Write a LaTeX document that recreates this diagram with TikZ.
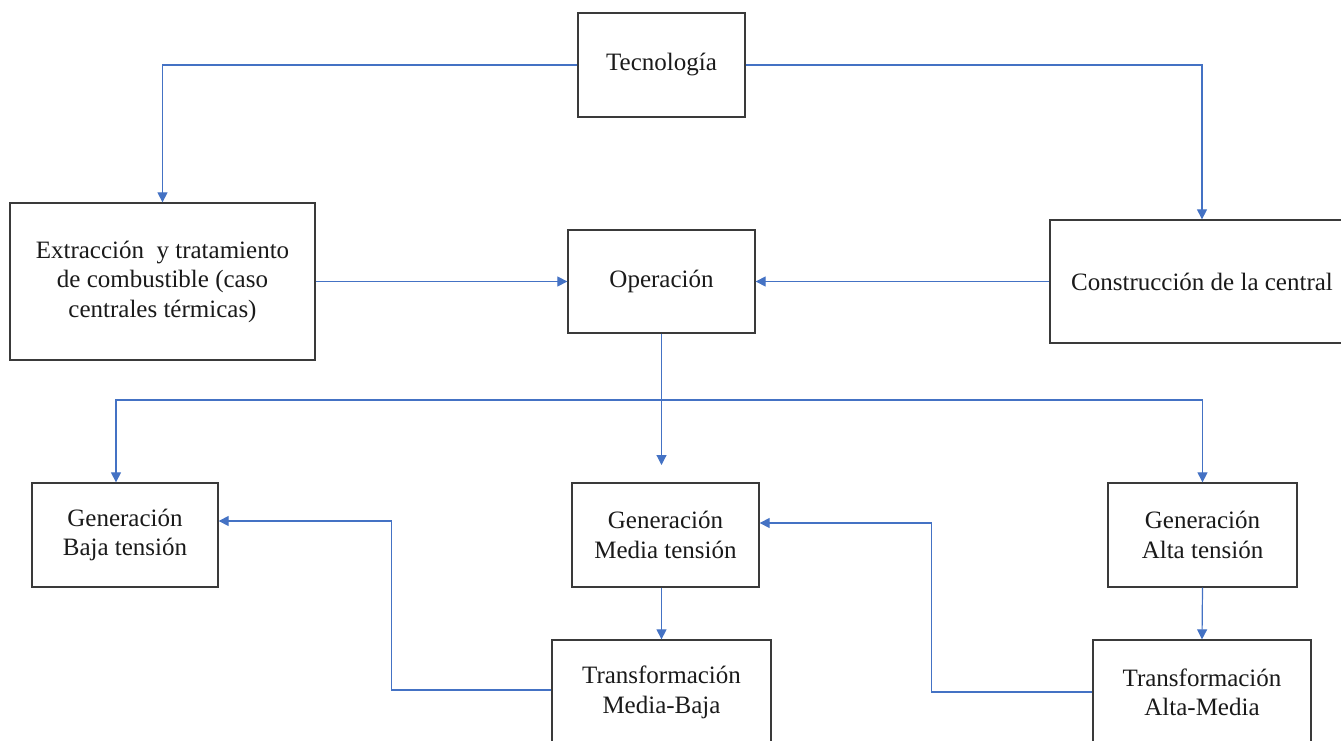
\documentclass[tikz,border=0pt]{standalone}
\usepackage{fontspec}
\setmainfont{Liberation Serif}
\usetikzlibrary{arrows.meta}
\definecolor{conn}{HTML}{4472C4}
\definecolor{boxline}{HTML}{3A3A3A}
\definecolor{txt}{HTML}{1A1A1A}
\begin{document}
\begin{tikzpicture}[x=1pt,y=-1pt,
  box/.style={draw=boxline,line width=1.3pt,fill=white,align=center,text=txt,inner sep=0pt,
    font=\fontsize{25}{29.5}\selectfont},
  arr/.style={draw=conn,line width=1.2pt,-{Triangle[length=10pt,width=10pt]}},
  ln/.style={draw=conn,line width=1.2pt}]
\useasboundingbox (0,0) rectangle (1341,741);
\clip (0,0) rectangle (1341,741);
\node[box,minimum width=167pt,minimum height=104pt] (tec) at (661.5,65) {Tecnología};
\node[box,minimum width=305pt,minimum height=157pt] (ext) at (162.5,281.5) {Extracción~ y tratamiento\\de combustible (caso\\centrales térmicas)};
\node[box,minimum width=187pt,minimum height=103pt] (op) at (661.5,281.5) {Operación};
\node[box,minimum width=304pt,minimum height=123pt] (con) at (1202,281.5) {Construcción de la central};
\node[box,minimum width=186pt,minimum height=104pt] (gb) at (125,535) {Generación\\Baja tensión};
\node[box,minimum width=187pt,minimum height=104pt] (gm) at (665.5,535) {Generación\\Media tensión};
\node[box,minimum width=189pt,minimum height=104pt] (ga) at (1202.5,535) {Generación\\Alta tensión};
\node[box,minimum width=219pt,minimum height=105pt] (tmb) at (661.5,692.5) {Transformación\\Media-Baja};
\node[box,minimum width=218pt,minimum height=105pt] (tam) at (1202,692.5) {Transformación\\Alta-Media};
% top connectors
\draw[arr] (tec.west) -| (ext.north);
\draw[arr] (tec.east) -| (con.north);
\draw[arr] (ext.east) -- (op.west);
\draw[arr] (con.west) -- (op.east);
% operation to generation
\coordinate (bus) at (661.5,400);
\coordinate (opend) at (661.5,465);
\draw[arr] (op.south) -- (opend);
\draw[arr] (bus) -| ([xshift=-9pt]gb.north);
\draw[arr] (bus) -| (ga.north);
% generation to transformation
\draw[arr] (tmb.north |- gm.south) -- (tmb.north);
\draw[arr] (ga.south) -- (tam.north);
% feedback
\draw[arr] ([yshift=2.5pt]tmb.west) -- ++(-160,0) |- ([yshift=14pt]gb.east);
\draw[arr] ([yshift=0.5pt]tam.west) -- ++(-161,0) |- ([yshift=12pt]gm.east);
\end{tikzpicture}
\end{document}
